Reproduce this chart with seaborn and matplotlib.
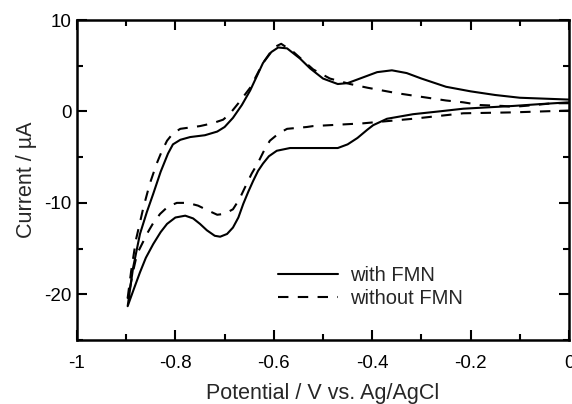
import pandas as pd
import matplotlib
matplotlib.use("Agg")
import matplotlib.pyplot as plt
from matplotlib.ticker import MultipleLocator
import seaborn as sns

# with FMN: anodic branch from 0 V to -0.9 V, then cathodic branch back to 0 V
with_x = [0.0, -0.05, -0.1, -0.15, -0.2, -0.25, -0.3, -0.33, -0.36, -0.39, -0.42, -0.45, -0.47,
          -0.5, -0.526, -0.547, -0.573, -0.591, -0.605, -0.622, -0.648, -0.665, -0.683, -0.70,
          -0.715, -0.74, -0.77, -0.79, -0.805, -0.815, -0.83, -0.845, -0.858, -0.872, -0.886, -0.897,
          -0.885, -0.872, -0.86, -0.845, -0.83, -0.817, -0.80, -0.78, -0.764, -0.75, -0.736, -0.72,
          -0.709, -0.695, -0.683, -0.672, -0.662, -0.652, -0.642, -0.632, -0.622, -0.61, -0.594,
          -0.567, -0.526, -0.47, -0.45, -0.43, -0.41, -0.398, -0.37, -0.317, -0.265, -0.215,
          -0.165, -0.114, -0.06, 0.0]
with_y = [1.3, 1.4, 1.5, 1.8, 2.2, 2.7, 3.6, 4.2, 4.5, 4.3, 3.7, 3.1, 3.0,
          3.6, 4.7, 5.8, 6.9, 7.0, 6.5, 5.3, 2.3, 0.7, -0.7, -1.7,
          -2.2, -2.6, -2.8, -3.1, -3.6, -4.6, -6.6, -9.0, -11.0, -13.4, -17.1, -21.3,
          -19.5, -17.6, -16.0, -14.5, -13.2, -12.3, -11.6, -11.4, -11.7, -12.3, -13.0, -13.6,
          -13.7, -13.4, -12.7, -11.6, -10.1, -8.8, -7.6, -6.5, -5.7, -4.9, -4.3,
          -4.0, -4.0, -4.0, -3.6, -2.9, -2.0, -1.5, -0.8, -0.3, 0.0, 0.3,
          0.45, 0.6, 0.8, 1.0]

# without FMN
without_x = [0.0, -0.033, -0.07, -0.114, -0.134, -0.18, -0.215, -0.25, -0.30, -0.35, -0.41, -0.445,
             -0.486, -0.52, -0.56, -0.585, -0.60, -0.622, -0.648, -0.672, -0.69, -0.703, -0.725,
             -0.75, -0.79, -0.805, -0.817, -0.828, -0.838, -0.852, -0.865, -0.88, -0.89, -0.897,
             -0.893, -0.886, -0.878, -0.866, -0.858, -0.845, -0.831, -0.815, -0.797, -0.775, -0.754,
             -0.735, -0.715, -0.70, -0.683, -0.67, -0.655, -0.645, -0.632, -0.62, -0.608, -0.59,
             -0.573, -0.533, -0.52, -0.419, -0.317, -0.215, -0.114, 0.0]
without_y = [0.9, 0.9, 0.7, 0.5, 0.6, 0.7, 1.0, 1.2, 1.6, 2.0, 2.6, 3.0,
             3.6, 4.6, 6.5, 7.4, 7.0, 5.3, 2.6, 0.9, -0.3, -0.9, -1.3,
             -1.6, -1.9, -2.4, -3.2, -4.4, -5.7, -7.9, -10.5, -14.0, -17.5, -20.4,
             -19.5, -17.5, -15.6, -14.3, -13.4, -12.2, -11.2, -10.4, -10.0, -10.0, -10.3,
             -10.8, -11.3, -11.2, -10.7, -9.6, -7.9, -6.8, -5.6, -4.3, -3.2, -2.4,
             -1.9, -1.7, -1.6, -1.3, -0.8, -0.2, -0.1, 0.1]

x_ticks = [-1, -0.8, -0.6, -0.4, -0.2, 0]
x_tick_labels = ["-1", "-0.8", "-0.6", "-0.4", "-0.2", "0"]
y_ticks = [-20, -10, 0, 10]

sns.set_style("ticks")
plt.rcParams['font.family'] = ['Liberation Sans', 'DejaVu Sans']
plt.rcParams['axes.unicode_minus'] = False

df_with = pd.DataFrame({"E": with_x, "I": with_y})
df_without = pd.DataFrame({"E": without_x, "I": without_y})

fig = plt.figure(figsize=(5.72, 4.04), dpi=100)
ax = fig.add_axes([0.1346, 0.1584, 0.8602, 0.792])

sns.lineplot(data=df_with, x="E", y="I", sort=False, estimator=None, color="black",
             linewidth=1.5, ax=ax, label="with FMN")
sns.lineplot(data=df_without, x="E", y="I", sort=False, estimator=None, color="black",
             linewidth=1.5, linestyle=(0, (5, 4.5)), ax=ax, label="without FMN")

ax.set_xlim(-1, 0)
ax.set_ylim(-25, 10)
ax.set_xticks(x_ticks)
ax.set_xticklabels(x_tick_labels)
ax.set_yticks(y_ticks)
ax.xaxis.set_minor_locator(MultipleLocator(0.1))
ax.yaxis.set_minor_locator(MultipleLocator(5))

for s in ax.spines.values():
    s.set_linewidth(1.8)
    s.set_color("black")
ax.tick_params(which="both", direction="in", top=True, right=True, width=1.5, colors="black")
ax.tick_params(which="major", length=7.5)
ax.tick_params(which="minor", length=4)
ax.tick_params(axis="x", which="major", labelsize=13.5, pad=11)
ax.tick_params(axis="y", which="major", labelsize=13.5, pad=4)

ax.set_xlabel("Potential / V vs. Ag/AgCl", fontsize=15.5, labelpad=8)
ax.set_ylabel("Current / µA", fontsize=15.5, labelpad=5)

ax.legend(loc="upper left", bbox_to_anchor=(0.408, 0.23), frameon=False, fontsize=14.5,
          handlelength=3.0, handletextpad=0.6, labelspacing=0.2, borderpad=0, borderaxespad=0)

fig.savefig("out.png", dpi=100)
